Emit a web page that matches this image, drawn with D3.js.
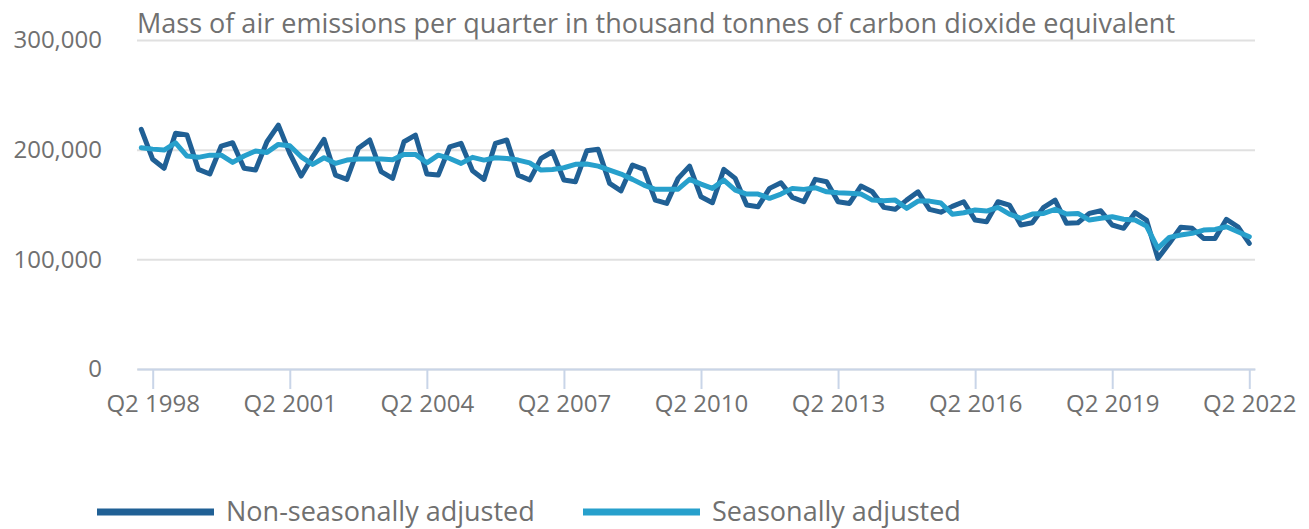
<!DOCTYPE html>
<meta charset="utf-8">

<!-- Load d3.js -->
<script src="https://d3js.org/d3.v7.min.js"></script>

<style>
  body { margin: 0; background: #fff; }
  text { font-family: "Open Sans", sans-serif; fill: #707070; }
</style>

<body>

<script>

// quarters run Q1 1998 .. Q2 2022
var quarters = [];
for (var yr = 1998; yr <= 2022; yr++) {
    for (var q = 1; q <= 4; q++) {
        if (yr === 2022 && q > 2) break;
        quarters.push("Q" + q + " " + yr);
    }
}

var xTickLabels = ["Q2 1998", "Q2 2001", "Q2 2004", "Q2 2007", "Q2 2010",
                   "Q2 2013", "Q2 2016", "Q2 2019", "Q2 2022"];

var yTickValues = [0, 100000, 200000, 300000];

// thousand tonnes CO2e
var nonSeasonal = [
    218.5, 191.2, 183.0, 214.9, 213.3, 182.0, 177.8, 203.3, 206.3, 183.0,
    181.4, 207.2, 222.4, 196.6, 175.9, 193.5, 209.4, 176.8, 172.9, 201.2,
    208.8, 179.9, 173.8, 207.2, 213.3, 177.8, 176.8, 202.6, 205.7, 180.8,
    172.9, 205.7, 208.8, 176.8, 172.3, 192.1, 198.1, 172.3, 170.7, 199.0,
    200.3, 169.3, 162.5, 186.0, 182.0, 154.0, 151.0, 173.8, 185.0, 157.0,
    151.6, 182.0, 173.8, 149.5, 148.0, 164.7, 169.8, 156.5, 152.5, 172.9,
    170.7, 152.5, 151.0, 166.8, 161.6, 147.4, 145.6, 154.0, 161.6, 145.6,
    143.0, 148.3, 152.5, 135.8, 134.3, 152.5, 149.5, 131.3, 133.4, 147.4,
    154.0, 132.8, 133.4, 141.9, 144.3, 131.3, 128.3, 142.5, 135.8, 100.9,
    114.6, 129.2, 128.3, 119.1, 119.1, 136.5, 129.7, 114.6
];

var seasonal = [
    201.7, 200.5, 199.6, 206.3, 194.2, 193.0, 195.0, 195.0, 188.4, 194.2,
    198.7, 197.5, 204.8, 203.6, 193.5, 186.6, 192.6, 187.5, 190.5, 191.4,
    191.4, 191.4, 190.8, 195.7, 195.7, 188.0, 195.0, 192.0, 187.5, 193.0,
    190.5, 192.6, 192.0, 190.5, 188.0, 181.4, 182.0, 183.5, 186.6, 186.9,
    185.0, 181.4, 177.8, 172.9, 167.7, 163.8, 163.8, 164.0, 172.9, 168.6,
    164.7, 172.3, 163.2, 159.5, 159.5, 155.6, 159.5, 164.7, 163.8, 165.3,
    161.6, 160.7, 160.2, 159.5, 154.0, 153.4, 154.0, 146.5, 153.1, 153.1,
    151.3, 141.2, 142.5, 145.0, 144.0, 147.4, 141.3, 137.4, 141.3, 141.9,
    145.6, 141.3, 141.9, 135.8, 137.4, 138.8, 136.5, 135.8, 130.4, 110.0,
    120.0, 122.2, 123.7, 126.7, 127.3, 129.7, 125.2, 120.6
];

var seriesNames = ["Non-seasonally adjusted", "Seasonally adjusted"];
var seriesColors = ["#206095", "#27a0cc"];

var width = 1309,
    height = 529;

var svg = d3.select("body").append("svg")
    .attr("width", width)
    .attr("height", height);

var x = d3.scaleLinear()
    .domain([-0.375, quarters.length - 0.5])
    .range([137, 1255]);

var y = d3.scaleLinear()
    .domain([0, 300000])
    .range([369, 40]);

// title
svg.append("text")
    .attr("x", 137)
    .attr("y", 33)
    .style("font-size", "27px")
    .text("Mass of air emissions per quarter in thousand tonnes of carbon dioxide equivalent");

// y gridlines + labels
var yAxis = svg.append("g")
    .attr("transform", "translate(137,0)")
    .call(d3.axisLeft(y)
        .tickValues(yTickValues)
        .tickSize(-(1255 - 137))
        .tickPadding(35)
        .tickFormat(d3.format(",")));

yAxis.select(".domain").remove();
yAxis.selectAll(".tick line")
    .attr("stroke", "#e0e0e0")
    .attr("stroke-width", 2);
yAxis.selectAll(".tick text")
    .style("font-size", "24px")
    .style("font-family", "Open Sans, sans-serif")
    .attr("fill", "#707070");

// x axis
var tickIdx = xTickLabels.map(function(l) { return quarters.indexOf(l); });

var xAxis = svg.append("g")
    .attr("transform", "translate(0," + y(0) + ")")
    .call(d3.axisBottom(x)
        .tickValues(tickIdx)
        .tickSize(20)
        .tickSizeOuter(0)
        .tickPadding(6)
        .tickFormat(function(i) { return quarters[i]; }));

xAxis.select(".domain")
    .attr("stroke", "#c9d5e8")
    .attr("stroke-width", 2);
xAxis.selectAll(".tick line")
    .attr("stroke", "#c9d5e8")
    .attr("stroke-width", 2);
xAxis.selectAll(".tick text")
    .style("font-size", "24px")
    .style("font-family", "Open Sans, sans-serif")
    .attr("fill", "#707070");

// lines
var line = d3.line()
    .x(function(d, i) { return x(i); })
    .y(function(d) { return y(d * 1000); });

[nonSeasonal, seasonal].forEach(function(s, k) {
    svg.append("path")
        .datum(s)
        .attr("fill", "none")
        .attr("stroke", seriesColors[k])
        .attr("stroke-width", 5)
        .attr("stroke-linejoin", "round")
        .attr("stroke-linecap", "round")
        .attr("d", line);
});

// legend
var legendX = [97, 583];
var legend = svg.selectAll(".legend")
    .data(seriesNames)
    .enter().append("g")
    .attr("class", "legend")
    .attr("transform", function(d, i) { return "translate(" + legendX[i] + ",512)"; });

legend.append("line")
    .attr("x1", 0)
    .attr("x2", 117)
    .attr("stroke", function(d, i) { return seriesColors[i]; })
    .attr("stroke-width", 7);

legend.append("text")
    .attr("x", 129)
    .attr("dy", "0.35em")
    .style("font-size", "27px")
    .text(function(d) { return d; });

</script>

</body>
